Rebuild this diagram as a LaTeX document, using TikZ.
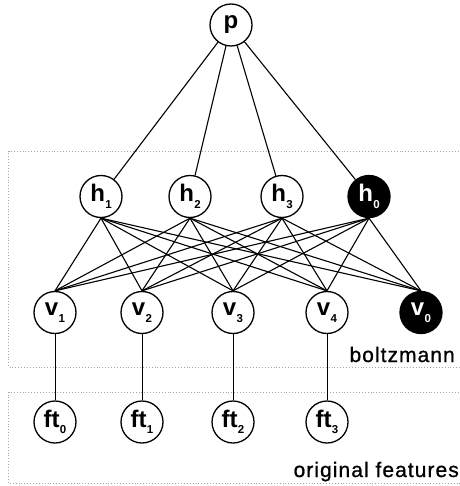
\documentclass[tikz,border=0pt]{standalone}
\usepackage{fontspec}
\setmainfont{Liberation Sans}
\newfontfamily\boxfont[LetterSpace=5,FakeBold=0.8]{Liberation Sans}
\newcommand\nsub[1]{\kern0.3pt\raisebox{-6.5pt}{\fontsize{11.5}{11.5}\selectfont #1}}
\tikzset{
  unit/.style={circle, draw, line width=1.3pt, minimum size=42pt, inner sep=0pt,
    font=\fontsize{24}{24}\selectfont\bfseries},
  biasunit/.style={unit, fill=black, text=white},
  edge/.style={line width=1.1pt},
  vedge/.style={line width=0.9pt},
  region/.style={draw=gray!70, dotted, line width=0.9pt},
  regionlabel/.style={anchor=base east, inner sep=0pt, font=\boxfont\fontsize{21}{21}\selectfont}
}
\begin{document}
\begin{tikzpicture}[x=1pt, y=-1pt]
\useasboundingbox (0,0) rectangle (459,486);
% regions
\draw[region] (470,151) -- (8.5,151) -- (8.5,367) -- (470,367);
\draw[region] (470,392) -- (8.5,392) -- (8.5,483) -- (470,483);
\node[regionlabel] (lb) at (455,362) {boltzmann};
\node[regionlabel] (lo) at (459,477) {original features};
% nodes
\node[unit] (p) at (231,25) {p};
\node[unit] (h1) at (101,196.5) {h\nsub{1}};
\node[unit] (h2) at (190,196.5) {h\nsub{2}};
\node[unit] (h3) at (282,196.5) {h\nsub{3}};
\node[biasunit] (h0) at (369,196.5) {h\nsub{0}};
\node[unit] (v1) at (55,312.5) {v\nsub{1}};
\node[unit] (v2) at (142,312.5) {v\nsub{2}};
\node[unit] (v3) at (233,312.5) {v\nsub{3}};
\node[unit] (v4) at (327,312.5) {v\nsub{4}};
\node[biasunit] (v0) at (421,312.5) {v\nsub{0}};
\node[unit] (f0) at (55,422) {ft\nsub{0}};
\node[unit] (f1) at (142,422) {ft\nsub{1}};
\node[unit] (f2) at (233,422) {ft\nsub{2}};
\node[unit] (f3) at (327,422) {ft\nsub{3}};
% edges
\foreach \h in {h1,h2,h3,h0} \draw[edge] (p) -- (\h);
\foreach \h in {h1,h2,h3,h0}
  \foreach \v in {v1,v2,v3,v4,v0}
    \draw[edge] (\h.south) -- (\v.north);
\draw[vedge] (v1) -- (f0);
\draw[vedge] (v2) -- (f1);
\draw[vedge] (v3) -- (f2);
\draw[vedge] (v4) -- (f3);
\end{tikzpicture}
\end{document}
